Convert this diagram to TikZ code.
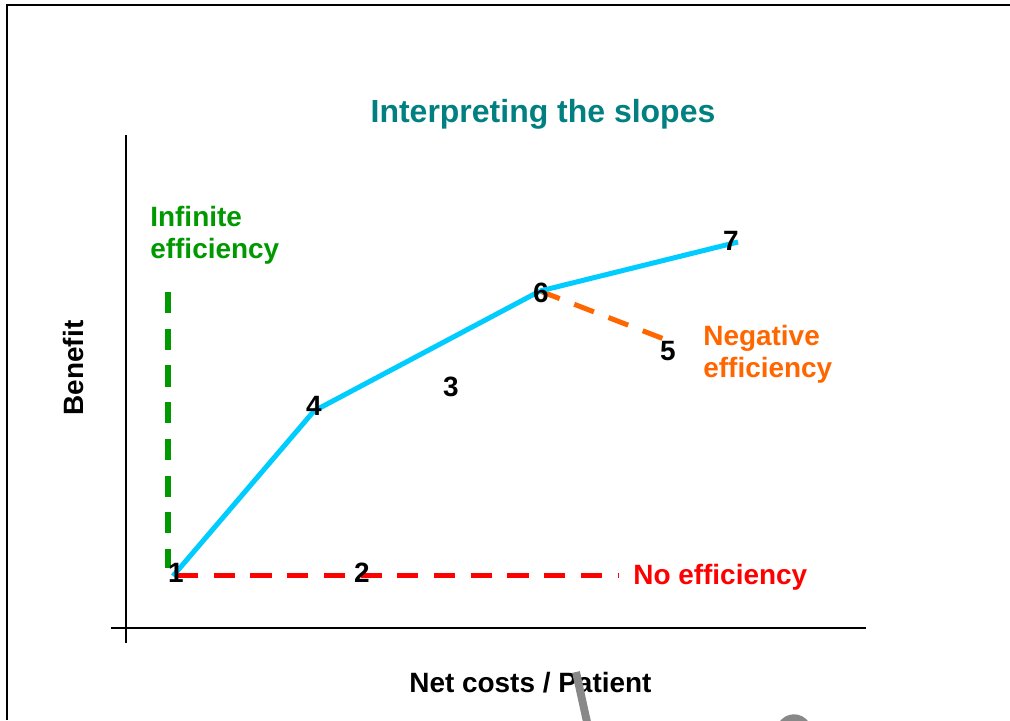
\documentclass[tikz,border=0pt]{standalone}
\usepackage{fontspec}
\setmainfont{Liberation Sans}
\usepackage{tikz}

\definecolor{slopeblue}{RGB}{0,204,255}
\definecolor{titleteal}{RGB}{0,128,128}
\definecolor{infgreen}{RGB}{0,153,0}
\definecolor{negorange}{RGB}{255,102,0}
\definecolor{nored}{RGB}{255,0,0}
\definecolor{scribble}{RGB}{136,136,136}

\begin{document}
\begin{tikzpicture}[x=0.02cm,y=-0.02cm]
        \tikzstyle{every node} = [inner sep=0pt, font=\bfseries\fontsize{15.9}{18.2}\selectfont]
        \tikzstyle{slope} = [line width=2.85pt, dash pattern=on 12pt off 8.9pt]
        \tikzstyle{axis} = [line width=1.1pt]
        \useasboundingbox (0,0) rectangle (1010,720);
        \draw[axis] (7,720) -- (7,5) -- (1010,5);
        \draw[axis] (126,135) -- (126,643);
        \draw[axis] (111,628) -- (866,628);
        % points of the curve
        \coordinate (c1) at (173,576);
        \coordinate (c4) at (314,411);
        \coordinate (c6) at (540,291);
        \coordinate (c7) at (738,242);
        \coordinate (g0) at (168,292);
        \coordinate (g1) at (168,568);
        \coordinate (r0) at (177,575);
        \coordinate (r1) at (619,575);
        \coordinate (o1) at (664,339);
        \draw[slope, infgreen] (g0) -- (g1);
        \draw[slope, nored] (r0) -- (r1);
        \draw[slope, negorange] (c6) -- (o1);
        \foreach \from/\to in {c1/c4, c4/c6, c6/c7}
            \draw[line width=2.85pt, slopeblue, line join=round] (\from) -- (\to);
        % numbers
        \node[anchor=base] (n1) at (176,582) {1};
        \node[anchor=base] (n2) at (362,582) {2};
        \node[anchor=base] (n3) at (451,396) {3};
        \node[anchor=base] (n4) at (314,415) {4};
        \node[anchor=base] (n5) at (668,360) {5};
        \node[anchor=base] (n6) at (541,302) {6};
        \node[anchor=base] (n7) at (731,250) {7};
        % texts
        \node[anchor=base, titleteal, font=\bfseries\fontsize{18.2}{22}\selectfont] (title) at (543,122) {Interpreting the slopes};
        \node[anchor=base west, infgreen, align=left] (inf) at (150,258) {Infinite\\efficiency};
        \node[anchor=base west, negorange, align=left] (neg) at (703,377) {Negative\\efficiency};
        \node[anchor=base west, nored] (noeff) at (633,584) {No efficiency};
        \node[anchor=base, rotate=90] (benefit) at (83,368) {Benefit};
        \node[anchor=base west] (netcost) at (409,692) {Net costs / Patient};
        \draw[scribble, line width=4.5pt] (576,672) -- (587,722);
        \draw[scribble, line width=4.5pt] (782,725) .. controls (788,716) and (800,716) .. (806,725);
\end{tikzpicture}
\end{document}
